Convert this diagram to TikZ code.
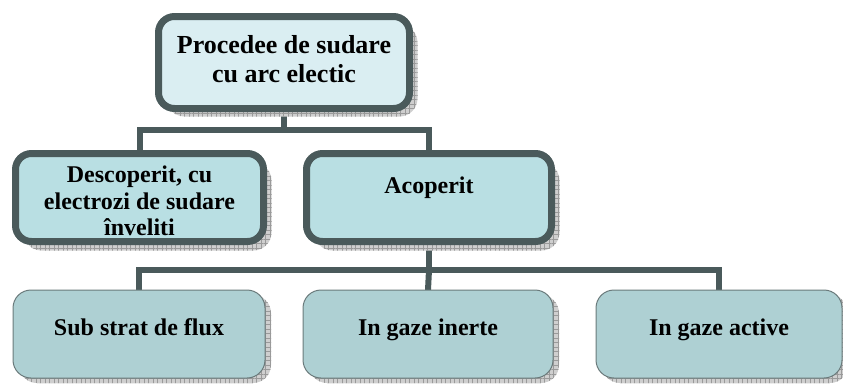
\documentclass[tikz,border=0pt]{standalone}
\usepackage{fontspec}
\setmainfont{Liberation Serif}
\usetikzlibrary{patterns.meta,calc}
\definecolor{bord}{HTML}{4A5A5B}
\definecolor{fillA}{HTML}{DAEEF2}
\definecolor{fillB}{HTML}{B9DFE3}
\definecolor{fillC}{HTML}{AED0D3}
\definecolor{thin}{HTML}{6A7A7B}
\definecolor{shadowbase}{HTML}{CFCFCF}
\definecolor{shadowgrid}{HTML}{9A9A9A}
\pgfdeclarelayer{conn}
\pgfdeclarelayer{shad}
\pgfsetlayers{conn,shad,main}
\begin{document}
\begin{tikzpicture}[x=1pt,y=-1pt,
  boxA/.style={draw=bord,line width=7pt,rounded corners=16pt,fill=fillA,
    minimum width=251pt,minimum height=92pt,inner sep=0pt,outer sep=0pt},
  boxB/.style={draw=bord,line width=7pt,rounded corners=16pt,fill=fillB,
    minimum height=88pt,inner sep=0pt,outer sep=0pt},
  boxC/.style={draw=thin,line width=1pt,rounded corners=18pt,fill=fillC,
    minimum height=88pt,inner sep=0pt,outer sep=0pt},
  lblA/.style={font=\fontsize{26}{28.5}\selectfont\bfseries,align=center,inner sep=0pt},
  lblB/.style={font=\fontsize{24}{26.5}\selectfont\bfseries,align=center,inner sep=0pt},
  conn/.style={draw=bord,line width=6pt,line join=miter},
  shadowbox/.style={fill=shadowbase,
    postaction={pattern={Lines[angle=0,distance=4.5pt,line width=0.5pt]},pattern color=shadowgrid},
    postaction={pattern={Lines[angle=90,distance=4.5pt,line width=0.5pt]},pattern color=shadowgrid}},
]
\useasboundingbox (0,0) rectangle (843,383);

% boxes
\node[boxA] (top) at (284,62.5) {};
\node[boxB,minimum width=248pt] (desc) at (139.5,197.5) {};
\node[boxB,minimum width=245pt] (acop) at (429,197.5) {};
\node[boxC,minimum width=252pt] (sub) at (139,334) {};
\node[boxC,minimum width=250pt] (inert) at (428,334) {};
\node[boxC,minimum width=246pt] (act) at (719,334) {};

% labels
\node[lblA] (topT) at (284,59) {Procedee de sudare\\cu arc electic};
\node[lblB] (descT) at (139.5,201) {Descoperit, cu\\electrozi de sudare\\înveliti};
\node[lblB,anchor=base] (acopT) at (429,193) {Acoperit};
\node[lblB,anchor=base] (subT) at (139,335) {Sub strat de flux};
\node[lblB,anchor=base] (inertT) at (428,335) {In gaze inerte};
\node[lblB,anchor=base] (actT) at (719,335) {In gaze active};

% shadows
\begin{pgfonlayer}{shad}
\path[shadowbox,rounded corners=18pt] ([shift={(8,8)}]top.north west) rectangle ([shift={(8,8)}]top.south east);
\path[shadowbox,rounded corners=18pt] ([shift={(8,9)}]desc.north west) rectangle ([shift={(8,9)}]desc.south east);
\path[shadowbox,rounded corners=18pt] ([shift={(8,9)}]acop.north west) rectangle ([shift={(8,9)}]acop.south east);
\path[shadowbox,rounded corners=18pt] ([shift={(6,5)}]sub.north west) rectangle ([shift={(6,5)}]sub.south east);
\path[shadowbox,rounded corners=18pt] ([shift={(6,5)}]inert.north west) rectangle ([shift={(6,5)}]inert.south east);
\path[shadowbox,rounded corners=18pt] ([shift={(6,5)}]act.north west) rectangle ([shift={(6,5)}]act.south east);
\end{pgfonlayer}

% connectors
\coordinate (bus1) at (284,130);
\coordinate (bus2) at (429,270);
\begin{pgfonlayer}{conn}
\draw[conn] (top.south) -- (bus1);
\draw[conn] (desc.north) |- (bus1) -| (acop.north);
\draw[conn] (acop.south) -- (bus2);
\draw[conn] (sub.north) |- (bus2) -| (act.north);
\draw[conn] (bus2) -- (inert.north);
\end{pgfonlayer}
\end{tikzpicture}
\end{document}
